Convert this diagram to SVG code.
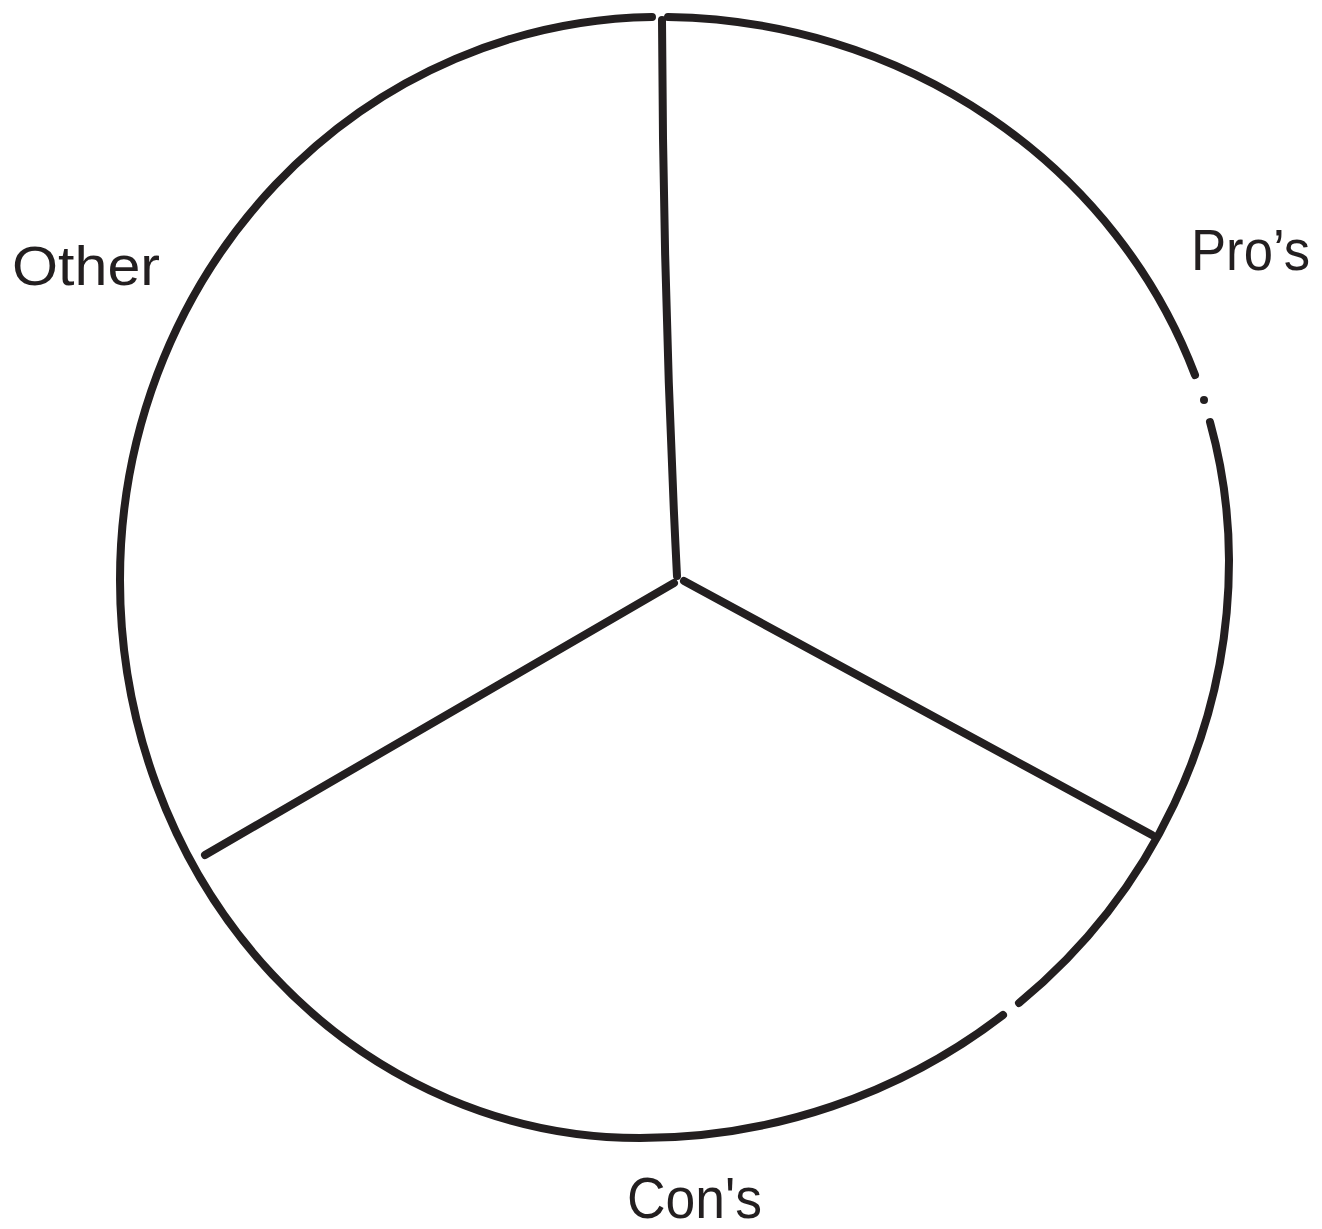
<svg xmlns="http://www.w3.org/2000/svg" width="1322" height="1229" viewBox="0 0 1322 1229">
<style>
.ink{fill:none;stroke:#231f20;stroke-width:8;stroke-linecap:round;stroke-linejoin:round}
.lbl{font-family:"Liberation Sans",Arial,sans-serif;fill:#231f20}
</style>
<rect width="1322" height="1229" fill="#ffffff"/>
<g id="outline">
<path class="ink" d="M668,17 A569,543 0 0 1 1195,375"/>
<circle cx="1204" cy="400" r="4" fill="#231f20"/>
<path class="ink" d="M1210,422 A569,543 0 0 1 1229,560 A589,578 0 0 1 1019,1003"/>
<path class="ink" d="M1003,1015 A589,578 0 0 1 640,1138 A520,558 0 0 1 120,580 A540,563 0 0 1 652,17"/>
</g>
<g id="connectors">
<path class="ink" d="M662,20 Q663,300 677,576"/>
<path class="ink" d="M674,583 L205,855"/>
<path class="ink" d="M684,581 L1152,835"/>
</g>
<g id="label-other"><text class="lbl" x="12" y="285" font-size="55" textLength="148" lengthAdjust="spacingAndGlyphs">Other</text></g>
<g id="label-pros"><text class="lbl" x="1191" y="270" font-size="58" textLength="119" lengthAdjust="spacingAndGlyphs">Pro’s</text></g>
<g id="label-cons"><text class="lbl" x="627" y="1218" font-size="58" textLength="135" lengthAdjust="spacingAndGlyphs">Con's</text></g>
</svg>
